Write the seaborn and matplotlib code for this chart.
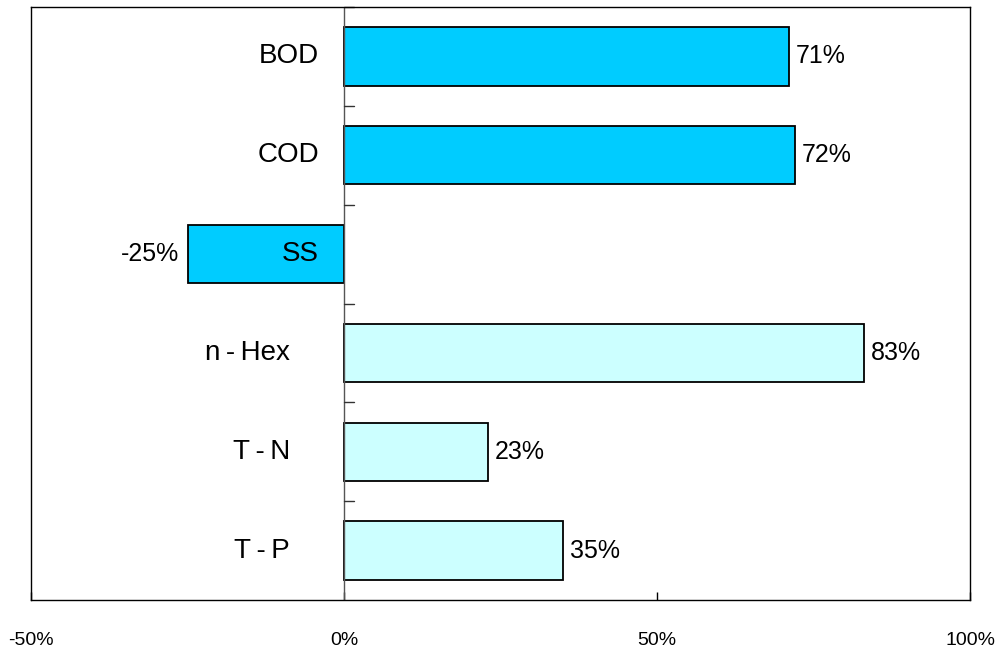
import matplotlib
matplotlib.use("Agg")
import matplotlib.pyplot as plt
import seaborn as sns
import pandas as pd

# Removal rates by parameter (%)
categories = ["BOD", "COD", "SS", "n\u2009-\u2009Hex", "T\u2009-\u2009N", "T\u2009-\u2009P"]
values = [71, 72, -25, 83, 23, 35]
groups = ["A", "A", "A", "B", "B", "B"]
xtick_values = [-50, 0, 50, 100]
xtick_labels = ["-50%", "0%", "50%", "100%"]

palette = {"A": "#00CCFF", "B": "#CCFFFF"}

sns.set_style("white")
plt.rcParams["font.family"] = ["Liberation Sans", "DejaVu Sans"]
plt.rcParams["text.color"] = "black"

df = pd.DataFrame({"cat": categories, "val": values, "grp": groups})

fig = plt.figure(figsize=(9.98, 6.5), dpi=100)
ax = fig.add_axes([0.0311, 0.0769, 0.9409, 0.9123])

sns.barplot(data=df, x="val", y="cat", hue="grp", palette=palette,
            order=categories, hue_order=["A", "B"], dodge=False,
            width=0.59, edgecolor="black", linewidth=1.3, saturation=1,
            legend=False, ax=ax, orient="h")

ax.set_xlim(-50, 100)
ax.set_ylim(len(categories) - 0.5, -0.5)
ax.set_xlabel("")
ax.set_ylabel("")

# zero line
ax.axvline(0, color="#555555", lw=1.0, zorder=1)

# x axis ticks
ax.set_xticks(xtick_values)
ax.set_xticklabels(xtick_labels, fontsize=14)
ax.tick_params(axis="x", direction="in", length=6, width=1, pad=23,
               bottom=True, top=False, color="black", labelcolor="black")

# y axis: no labels on the frame; boundary ticks drawn on the zero line
ax.set_yticks([])
for b in [i - 0.5 for i in range(len(categories))]:
    ax.plot([0, 1.6], [b, b], color="#333333", lw=1.0, zorder=1,
            clip_on=False)

for sp in ax.spines.values():
    sp.set_visible(True)
    sp.set_color("black")
    sp.set_linewidth(1.0)

# category names beside the zero line
for i, (c, g) in enumerate(zip(categories, groups)):
    off = -25 if g == "A" else -54
    ax.annotate(c, xy=(0, i), xytext=(off, 0), textcoords="offset pixels",
                ha="right", va="center", fontsize=20, color="black", zorder=5)

# value labels
for i, v in enumerate(values):
    if v >= 0:
        ax.annotate(f"{v}%", xy=(v, i), xytext=(7, 0),
                    textcoords="offset pixels", ha="left", va="center",
                    fontsize=18, color="black")
    else:
        ax.annotate(f"{v}%", xy=(v, i), xytext=(-8, 0),
                    textcoords="offset pixels", ha="right", va="center",
                    fontsize=18, color="black")

fig.savefig("out.png", dpi=100)
